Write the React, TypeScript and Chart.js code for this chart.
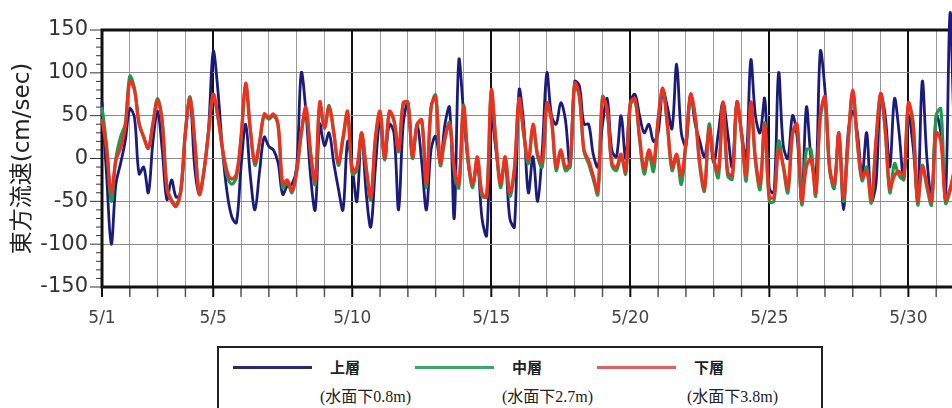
import React, { useEffect, useRef } from "react";
import { Chart, registerables } from "chart.js";

Chart.register(...registerables);

// Time axis: day of May (1 = 5/1 00:00), one sample every 4 hours
const START_DAY = 1;
const SAMPLES_PER_DAY = 6;

// 上層 (水面下0.8m)
const upperLayer = [
  66, -20, -100, -30, -6, 20, 58, 48, -18, -10, -40, 20, 55, 10, -48, -25, -45, -40, 30, 70, -10, -42, -15, 35,
  125, 80, 10, -40, -68, -75, -10, 40, -20, -60, -15, 25, 14, 10, -5, -42, -32, -30, -10, 100, 55, -20, -60, 40, 15, 30, -5, -35, -60, 20,
  -10, -50, 30, -40, -80, -10, 45, 0, 40, 30, -60, 40, 65, 2, 40, -5, -60, 10, 26, -5, 40, 60, -70, 115, 55, -5, -30, -5, -70, -90,
  50, 10, -25, -5, -70, -80, 80, 40, -40, 2, -50, 10, 100, 50, 40, 65, 45, -10, 90, 85, 40, 40, 5, -10, 40, 70, 10, 2, 50, 0,
  65, 75, 50, 30, 40, 20, 30, 80, 60, 35, 110, 30, 15, 75, 40, 20, 2, 30, -5, 30, 66, 30, -10, 66, 30, 0, 115, 50, 30, 70,
  -35, -40, 100, 15, 0, 50, 25, -50, 60, 0, -25, 125, 80, -10, -35, 30, -60, 30, 55, 30, -20, 30, -50, -30, 75, 50, -10, 70, 30, -25, 50, 15, -45, 90, 0, -45, 50, 30, -45, 170, 20, -30, 0,
];

// 中層 (水面下2.7m)
const middleLayer = [
  60, 15, -50, 0, 25, 40, 96, 82, 42, 25, 12, 42, 70, 44, -32, -48, -54, -36, 32, 72, 22, -40, -14, 32,
  72, 48, 10, -20, -30, -22, 22, 85, 33, -8, 18, 50, 46, 50, 38, -34, -28, -40, -16, 28, 58, 6, -30, 64, 35, 62, 32, -8, 22, 52,
  -18, -14, 28, -12, -48, 22, 54, -2, 54, 44, 8, 64, 66, 0, 38, 44, -34, 58, 74, -8, 22, 42, -14, -34, 62, -4, -34, 0, -44, -44,
  78, 18, -34, 0, -44, -14, 68, 28, -6, 38, 2, -10, 62, 44, -14, 8, -14, -8, 86, 72, 8, -6, -24, -42, 72, 56, -8, -14, 2, -18,
  62, 68, 22, -18, 5, -15, 44, 80, 38, -14, 2, -30, 16, 72, 48, -10, -38, 40, -2, -22, 64, -20, -24, 64, 28, -26, 64, -4, -36, 42,
  -50, -50, 20, -10, -40, 28, 38, -54, 10, 10, -44, 48, 70, -14, -34, 28, -50, 18, 78, 18, -26, -10, -52, 18, 74, 32, -40, -6, -20, -24, 62, 44, -54, -8, -34, -54, 50, 58, -52, -38, -12, 18, -22,
];

// 下層 (水面下3.8m)
const lowerLayer = [
  46, 10, -40, -2, 12, 35, 90, 80, 40, 25, 12, 40, 68, 42, -35, -50, -56, -38, 30, 70, 20, -42, -15, 30,
  75, 50, 12, -15, -24, -18, 25, 88, 35, -5, 20, 52, 48, 52, 40, -30, -25, -38, -15, 30, 60, 8, -26, 66, 36, 60, 30, -5, 25, 55,
  -15, -10, 30, -10, -45, 25, 55, 0, 55, 45, 10, 65, 65, 2, 40, 45, -30, 60, 72, -5, 25, 40, -10, -30, 60, 0, -30, 2, -40, -45,
  80, 20, -30, 2, -40, -10, 70, 30, -2, 40, 5, -5, 65, 45, -10, 10, -10, -5, 88, 74, 10, -2, -20, -38, 70, 58, -5, -10, 5, -15,
  65, 70, 25, -12, 10, -5, 46, 82, 40, -10, 5, -20, 20, 75, 50, -5, -35, 35, 0, -15, 66, -15, -20, 66, 30, -20, 66, 0, -30, 40,
  -45, -45, 10, -8, -35, 30, 40, -50, -10, 0, -40, 50, 72, -10, -30, 30, -46, 20, 80, 20, -22, -15, -48, 20, 76, 35, -35, -20, -15, -20, 65, 40, -50, -10, -30, -50, 30, 20, -48, -35, -10, 20, -20,
];

const seriesNames = ["上層", "中層", "下層"];
const depthLabels = ["(水面下0.8m)", "(水面下2.7m)", "(水面下3.8m)"];
const seriesColors = ["#1b1b7c", "#1f9a4c", "#f0301e"];
const legendColors = ["#2a2a6e", "#3aa56c", "#e06060"];

const labeledDays = [1, 5, 10, 15, 20, 25, 30];
const majorDays = [5, 10, 15, 20, 25, 30];
const yTitle = "東方流速(cm/sec)";
const X_MIN = 1;
const X_MAX = 32;
const Y_MIN = -150;
const Y_MAX = 150;

const toPoints = (values: number[]) =>
  values.map((v, i) => ({ x: START_DAY + i / SAMPLES_PER_DAY, y: v }));

const framePlugin = {
  id: "frameAndTicks",
  beforeDatasetsDraw(chart: any) {
    const { ctx, chartArea } = chart;
    const xs = chart.scales.x;
    const ys = chart.scales.y;
    ctx.save();
    for (let d = X_MIN; d <= X_MAX; d++) {
      const px = xs.getPixelForValue(d);
      const major = majorDays.includes(d) || d === 1;
      ctx.beginPath();
      ctx.strokeStyle = major ? "#111" : "#555";
      ctx.lineWidth = major ? 2 : 1.5;
      ctx.moveTo(px, chartArea.bottom);
      ctx.lineTo(px, chartArea.bottom + 10);
      ctx.stroke();
    }
    for (let v = Y_MIN; v <= Y_MAX; v += 10) {
      const py = ys.getPixelForValue(v);
      const major = v % 50 === 0;
      ctx.beginPath();
      ctx.strokeStyle = "#333";
      ctx.lineWidth = 1;
      ctx.moveTo(chartArea.left - (major ? 12 : 6), py);
      ctx.lineTo(chartArea.left, py);
      ctx.stroke();
    }
    ctx.strokeStyle = "#111";
    ctx.lineWidth = 3;
    ctx.strokeRect(
      chartArea.left,
      chartArea.top,
      chartArea.right - chartArea.left,
      chartArea.bottom - chartArea.top
    );
    ctx.restore();
  },
};

export default function App() {
  const canvasRef = useRef<HTMLCanvasElement | null>(null);

  useEffect(() => {
    if (!canvasRef.current) return;
    const common = { pointRadius: 0, tension: 0.35, clip: false as any };
    const chart = new Chart(canvasRef.current, {
      type: "line",
      data: {
        datasets: [
          { label: seriesNames[2], data: toPoints(lowerLayer), borderColor: seriesColors[2], borderWidth: 3.2, ...common },
          { label: seriesNames[1], data: toPoints(middleLayer), borderColor: seriesColors[1], borderWidth: 3.2, ...common },
          { label: seriesNames[0], data: toPoints(upperLayer), borderColor: seriesColors[0], borderWidth: 2.8, ...common },
        ],
      },
      options: {
        animation: false,
        responsive: false,
        devicePixelRatio: 1,
        layout: { padding: { top: 30, right: 2, bottom: 0, left: 0 } },
        plugins: {
          legend: { display: false },
          tooltip: { enabled: false },
        },
        scales: {
          x: {
            type: "linear",
            min: X_MIN,
            max: X_MAX,
            afterFit: (scale: any) => {
              scale.height = 48;
            },
            afterBuildTicks: (scale: any) => {
              const t = [];
              for (let d = X_MIN; d <= X_MAX; d++) t.push({ value: d });
              scale.ticks = t;
            },
            ticks: {
              autoSkip: false,
              maxRotation: 0,
              padding: 21,
              color: "#444",
              font: { family: "'DejaVu Sans', sans-serif", size: 17 },
              callback: (v: any) => (labeledDays.includes(Number(v)) ? `5/${v}` : ""),
            },
            grid: {
              drawTicks: false,
              color: (c: any) => (majorDays.includes(c.tick?.value) ? "#111" : "#9a9a9a"),
              lineWidth: (c: any) => (majorDays.includes(c.tick?.value) ? 2 : 1),
            },
            border: { display: false },
          },
          y: {
            type: "linear",
            min: Y_MIN,
            max: Y_MAX,
            afterFit: (scale: any) => {
              scale.width = 102;
            },
            ticks: {
              stepSize: 50,
              padding: 14,
              color: "#333",
              font: { family: "'DejaVu Sans', sans-serif", size: 21 },
            },
            grid: {
              drawTicks: false,
              color: "#8a8a8a",
              lineWidth: 1,
            },
            border: { display: false },
            title: {
              display: true,
              text: yTitle,
              color: "#222",
              padding: { top: 9, bottom: 0 },
              font: { family: "'DejaVu Sans', 'Noto Sans CJK JP', sans-serif", size: 23 },
            },
          },
        },
      },
      plugins: [framePlugin],
    });
    return () => chart.destroy();
  }, []);

  return (
    <div
      style={{
        position: "absolute",
        left: 0,
        top: 0,
        width: 952,
        height: 408,
        overflow: "hidden",
        background: "#fff",
      }}
    >
      <canvas
        ref={canvasRef}
        width={985}
        height={335}
        style={{ display: "block", width: 985, height: 335 }}
      />
      <div
        style={{
          position: "absolute",
          left: 217,
          top: 346,
          width: 606,
          height: 80,
          border: "2px solid #222",
          boxSizing: "border-box",
        }}
      />
      {seriesNames.map((name, i) => {
        const base = 233 + i * 182;
        return (
          <React.Fragment key={name}>
            <div
              style={{
                position: "absolute",
                left: base,
                top: 366,
                width: 79,
                height: 3,
                background: legendColors[i],
              }}
            />
            <div
              style={{
                position: "absolute",
                left: base + 97,
                top: 357,
                fontFamily: "'Noto Sans CJK JP', sans-serif",
                fontWeight: 700,
                fontSize: 15,
                lineHeight: "20px",
                color: "#222",
                whiteSpace: "nowrap",
              }}
            >
              {name}
            </div>
            <div
              style={{
                position: "absolute",
                left: base + 87 + (i === 2 ? 3 : 0),
                top: 386,
                fontFamily: "'Liberation Serif', 'Noto Sans CJK JP', serif",
                fontSize: 16,
                lineHeight: "22px",
                color: "#222",
                whiteSpace: "nowrap",
              }}
            >
              {depthLabels[i]}
            </div>
          </React.Fragment>
        );
      })}
    </div>
  );
}
